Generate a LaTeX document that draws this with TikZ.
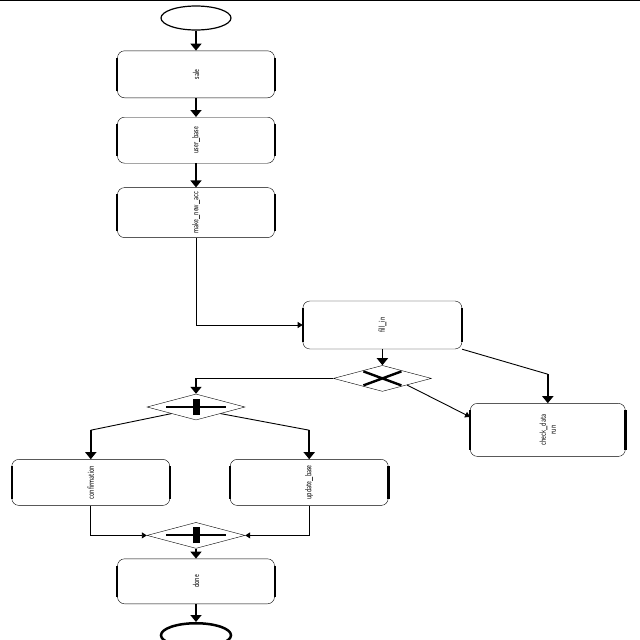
\documentclass[tikz,border=0pt]{standalone}
\usetikzlibrary{shapes.geometric,arrows.meta,positioning,calc}
\tikzstyle{task}=[draw, thin, rounded corners=7pt, minimum width=157pt, minimum height=47pt,
inner sep=2pt, font=\sffamily\fontsize{6}{8}\selectfont,
append after command={(\tikzlastnode.north west) edge[draw, -, line width=2.2pt, shorten <=7pt, shorten >=7pt] (\tikzlastnode.south west)
(\tikzlastnode.north east) edge[draw, -, line width=2.2pt, shorten <=7pt, shorten >=7pt] (\tikzlastnode.south east)}]
\tikzstyle{event}=[draw, ellipse, line width=1.2pt, minimum width=70pt, minimum height=24pt]
\tikzstyle{gateway}=[draw, thin, diamond, minimum width=98pt, minimum height=26pt, inner sep=0pt]
\tikzstyle{xorgate}=[gateway, path picture={\draw[line width=2.4pt]
($(path picture bounding box.center)+(-19pt,-7pt)$) -- ($(path picture bounding box.center)+(19pt,7pt)$)
($(path picture bounding box.center)+(-19pt,7pt)$) -- ($(path picture bounding box.center)+(19pt,-7pt)$);}]
\tikzstyle{andgate}=[gateway, path picture={\draw[line width=2pt]
($(path picture bounding box.center)+(-30pt,0)$) -- ($(path picture bounding box.center)+(30pt,0)$);
\draw[line width=7pt] ($(path picture bounding box.center)+(0,-8pt)$) -- ($(path picture bounding box.center)+(0,8pt)$);}]
\tikzstyle{myarrow}=[-{Triangle[length=7pt,width=11pt]}, line width=1.6pt]
\tikzstyle{mylink}=[-{Triangle[length=5pt,width=6pt]}, line width=0.9pt]
\newcommand{\vtxt}[1]{\rotatebox{90}{\scalebox{1}[1.5]{\shortstack{#1}}}}

\begin{document}
\begin{tikzpicture}[node distance=20pt]
    \useasboundingbox (0,0) rectangle (640pt,-640pt);
    \draw[line width=1.5pt] (0,0) -- (640pt,0);

    \node[event] (start) at (196pt,-18pt) {};

    \node[task, below=20pt of start] (sale) {\vtxt{sale}};
    \draw[myarrow] (start) -- (sale);

    \node[task, below=19pt of sale, minimum height=46pt] (userbase) {\vtxt{user\_base}};
    \draw[myarrow] (sale) -- (userbase);

    \node[task, below=24pt of userbase, minimum height=50pt] (makeacc) {\vtxt{make\_new\_acc}};
    \draw[myarrow] (userbase) -- (makeacc);

    \node[task, below right=63pt and 28pt of makeacc.south east, minimum width=159pt, minimum height=48pt] (fillin) {\vtxt{fill\_in}};
    \draw[mylink] (makeacc.south) |- (fillin.west);

    \node[xorgate, below=16pt of fillin] (xor) {};
    \draw[myarrow] (fillin) -- (xor);

    \node[task, below right=54pt and 8pt of fillin.south east, minimum width=155pt, minimum height=53pt] (checkdata) {\vtxt{check\_data\\run}};
    \coordinate (bend) at ($(checkdata.north)+(0,29pt)$);
    \draw[line width=0.9pt] (fillin.south east) -- (bend);
    \draw[myarrow] (bend) -- (checkdata.north);
    \draw[mylink] (xor.south east) -- ($(checkdata.west)+(0,13pt)$);

    \node[andgate, below=156pt of makeacc] (split) {};
    \draw[myarrow] (xor.west) -| (split.north);

    \node[task, below left=39pt and 26pt of split.south, minimum width=158pt, minimum height=46pt] (confirm) {\vtxt{confirmation}};
    \node[task, below right=39pt and 34pt of split.south, minimum width=158pt, minimum height=46pt] (update) {\vtxt{update\_base}};
    \coordinate (cl) at ($(confirm.north)+(0,29pt)$);
    \coordinate (cr) at ($(update.north)+(0,29pt)$);
    \draw[line width=0.9pt] (split.south west) -- (cl);
    \draw[myarrow] (cl) -- (confirm.north);
    \draw[line width=0.9pt] (split.south east) -- (cr);
    \draw[myarrow] (cr) -- (update.north);

    \node[andgate, below=102pt of split] (join) {};
    \draw[mylink] (confirm.south) |- (join.west);
    \draw[mylink] (update.south) |- (join.east);

    \node[task, below=10pt of join, minimum height=45pt] (done) {\vtxt{done}};
    \draw[myarrow] (join) -- (done);

    \node[event, line width=2.5pt, below=18pt of done] (end) {};
    \draw[myarrow] (done) -- (end);

\end{tikzpicture}
\end{document}
